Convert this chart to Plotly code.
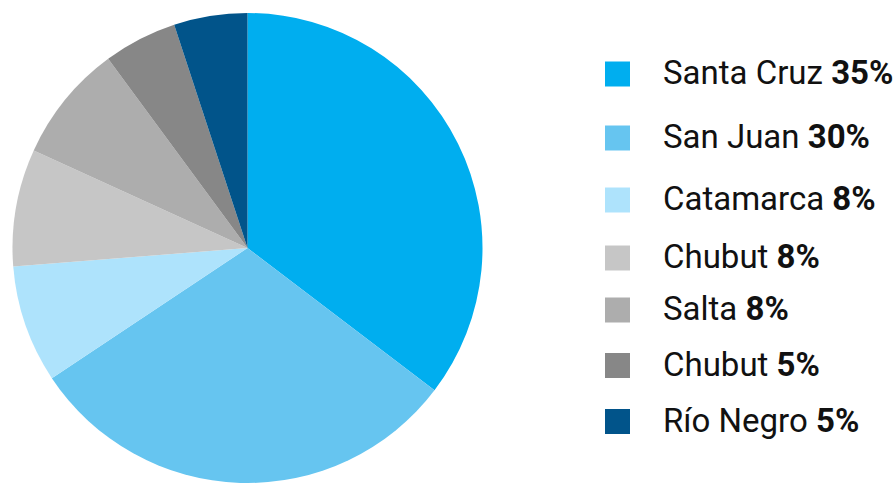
import plotly.graph_objects as go

labels = ["Santa Cruz", "San Juan", "Catamarca", "Chubut", "Salta", "Chubut", "Río Negro"]
values = [35, 30, 8, 8, 8, 5, 5]
colors = ["#00AEEF", "#66C5F0", "#AEE3FC", "#C6C6C6", "#ADADAD", "#878787", "#01548A"]

W, H = 896, 483
legend_rows_px = [74, 138, 200, 258, 310, 365.5, 421.5]

fig = go.Figure()
fig.add_trace(go.Pie(
    labels=[f"{l} {v}%" for l, v in zip(labels, values)],
    values=values,
    marker=dict(colors=colors, line=dict(width=0)),
    sort=False,
    direction="clockwise",
    rotation=0,
    textinfo="none",
    hoverinfo="label",
    showlegend=False,
    domain=dict(x=[12.5 / W, 482.5 / W], y=[0, 470 / H]),
))

shapes = []
annotations = []
for lab, val, col, yc in zip(labels, values, colors, legend_rows_px):
    shapes.append(dict(
        type="rect", xref="paper", yref="paper",
        x0=605 / W, x1=630 / W,
        y0=1 - (yc + 12.5) / H, y1=1 - (yc - 12.5) / H,
        fillcolor=col, line=dict(width=0),
    ))
    annotations.append(dict(
        xref="paper", yref="paper", x=661 / W, y=1 - (yc - 1.5) / H,
        xanchor="left", yanchor="middle", showarrow=False,
        text=f"{lab} <b>{val}%</b>",
        font=dict(family="Roboto", size=33, color="#111111"),
    ))

fig.update_layout(
    width=W, height=H,
    margin=dict(l=0, r=0, t=0, b=0),
    paper_bgcolor="white", plot_bgcolor="white",
    shapes=shapes, annotations=annotations,
)
fig.write_html("out.html")
